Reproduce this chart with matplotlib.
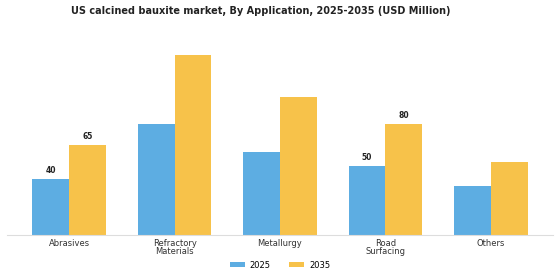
import matplotlib
matplotlib.use("Agg")
import matplotlib.pyplot as plt
import numpy as np

categories = ["Abrasives", "Refractory\nMaterials", "Metallurgy", "Road\nSurfacing", "Others"]
values_2025 = [40, 80, 60, 50, 35]
values_2035 = [65, 130, 100, 80, 53]
label_2025 = {0: "40", 3: "50"}
label_2035 = {0: "65", 3: "80"}
series_names = ["2025", "2035"]

blue = "#5DADE2"
yellow = "#F7C24A"

fig = plt.figure(figsize=(5.6, 2.8), dpi=100)
ax = fig.add_axes([0.0125, 0.162, 0.975, 0.714])

x = np.arange(len(categories))
w = 0.35
b1 = ax.bar(x - w / 2, values_2025, w, color=blue, label=series_names[0])
b2 = ax.bar(x + w / 2, values_2035, w, color=yellow, label=series_names[1])

for i, t in label_2025.items():
    ax.text(x[i] - w / 2, values_2025[i] + 3, t, ha="center", va="bottom",
            fontsize=5.5, fontweight="bold", color="#222222")
for i, t in label_2035.items():
    ax.text(x[i] + w / 2, values_2035[i] + 3, t, ha="center", va="bottom",
            fontsize=5.5, fontweight="bold", color="#222222")

ax.set_xlim(-0.59, 4.59)
ax.set_ylim(0, 145)
ax.set_xticks(x)
ax.set_xticklabels(categories, fontsize=6, color="#333333", linespacing=0.95)
ax.tick_params(axis="x", length=0, pad=3)
ax.set_yticks([])
for s in ["top", "right", "left"]:
    ax.spines[s].set_visible(False)
ax.spines["bottom"].set_color("#dddddd")
ax.spines["bottom"].set_linewidth(0.8)

fig.suptitle("US calcined bauxite market, By Application, 2025-2035 (USD Million)",
             x=0.466, y=0.978, fontsize=7, fontweight="bold", color="#222222")

fig.legend(handles=[b1, b2], labels=series_names, loc="center",
           bbox_to_anchor=(0.5, 0.053), ncol=2, frameon=False, fontsize=6,
           handlelength=1.8, handleheight=0.5, handletextpad=0.6, columnspacing=2.2)

fig.savefig("out.png", dpi=100)
